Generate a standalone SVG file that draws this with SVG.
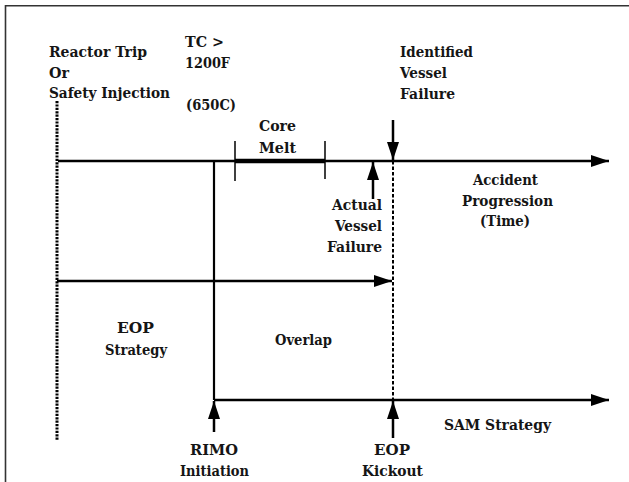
<svg xmlns="http://www.w3.org/2000/svg" width="629" height="482" viewBox="0 0 629 482">
<style>
.t text{font-family:"DejaVu Serif","Liberation Serif",serif;font-size:15px;font-weight:bold;fill:#151515}
.ln{stroke:#000;stroke-width:2.5;fill:none}
</style>
<defs>
<marker id="ah" viewBox="0 0 18 12" refX="18" refY="6" markerWidth="18" markerHeight="12" markerUnits="userSpaceOnUse" orient="auto">
<path d="M0,0 L18,6 L0,12 Z" fill="#000"/>
</marker>
</defs>
<rect width="629" height="482" fill="#fff"/>
<path d="M5.5,490 V5.8 H640" fill="none" stroke="#333" stroke-width="1.6"/>
<g id="connectors">
<line class="ln" x1="58" y1="161" x2="609" y2="161" marker-end="url(#ah)"/>
<line x1="235" y1="161" x2="325" y2="161" stroke="#000" stroke-width="4.5"/>
<line x1="235" y1="141" x2="235" y2="181" stroke="#000" stroke-width="1.5"/>
<line x1="325" y1="141" x2="325" y2="179" stroke="#000" stroke-width="1.5"/>
<line x1="57" y1="101" x2="57" y2="440" stroke="#000" stroke-width="3" stroke-dasharray="2.2 1.2"/>
<line x1="393" y1="161" x2="393" y2="400" stroke="#000" stroke-width="2" stroke-dasharray="3.5 2"/>
<line x1="214" y1="161" x2="214" y2="400" stroke="#000" stroke-width="2.2"/>
<line class="ln" x1="57" y1="281" x2="392" y2="281" marker-end="url(#ah)"/>
<line class="ln" x1="214" y1="400" x2="609" y2="400" marker-end="url(#ah)"/>
<line class="ln" x1="393" y1="120" x2="393" y2="160" marker-end="url(#ah)"/>
<line class="ln" x1="373" y1="199" x2="373" y2="162" marker-end="url(#ah)"/>
<line class="ln" x1="214" y1="432" x2="214" y2="401" marker-end="url(#ah)"/>
<line class="ln" x1="393" y1="438" x2="393" y2="401" marker-end="url(#ah)"/>
</g>
<g class="t">
<g id="reactor-trip">
<text x="49" y="57" textLength="98" lengthAdjust="spacingAndGlyphs">Reactor Trip</text>
<text x="49" y="78" textLength="20" lengthAdjust="spacingAndGlyphs">Or</text>
<text x="49" y="98" textLength="121" lengthAdjust="spacingAndGlyphs">Safety Injection</text>
</g>
<g id="tc">
<text x="185" y="47" textLength="39" lengthAdjust="spacingAndGlyphs">TC &gt;</text>
<text x="185" y="68" textLength="45" lengthAdjust="spacingAndGlyphs">1200F</text>
<text x="186" y="110" textLength="50" lengthAdjust="spacingAndGlyphs">(650C)</text>
</g>
<g id="core-melt">
<text x="259" y="131" textLength="37" lengthAdjust="spacingAndGlyphs">Core</text>
<text x="259" y="153" textLength="37" lengthAdjust="spacingAndGlyphs">Melt</text>
</g>
<g id="identified">
<text x="400" y="57" textLength="73" lengthAdjust="spacingAndGlyphs">Identified</text>
<text x="400" y="78" textLength="47" lengthAdjust="spacingAndGlyphs">Vessel</text>
<text x="400" y="99" textLength="55" lengthAdjust="spacingAndGlyphs">Failure</text>
</g>
<g id="accident">
<text x="473" y="185" textLength="65" lengthAdjust="spacingAndGlyphs">Accident</text>
<text x="462" y="206" textLength="91" lengthAdjust="spacingAndGlyphs">Progression</text>
<text x="480" y="226" textLength="50" lengthAdjust="spacingAndGlyphs">(Time)</text>
</g>
<g id="actual">
<text x="332" y="210" textLength="50" lengthAdjust="spacingAndGlyphs">Actual</text>
<text x="335" y="231" textLength="47" lengthAdjust="spacingAndGlyphs">Vessel</text>
<text x="327" y="252" textLength="55" lengthAdjust="spacingAndGlyphs">Failure</text>
</g>
<g id="eop-strategy">
<text x="117" y="333" textLength="37" lengthAdjust="spacingAndGlyphs">EOP</text>
<text x="105" y="355" textLength="62" lengthAdjust="spacingAndGlyphs">Strategy</text>
</g>
<g id="overlap">
<text x="275" y="345" textLength="57" lengthAdjust="spacingAndGlyphs">Overlap</text>
</g>
<g id="sam">
<text x="444" y="430" textLength="107" lengthAdjust="spacingAndGlyphs">SAM Strategy</text>
</g>
<g id="rimo">
<text x="190" y="455" textLength="48" lengthAdjust="spacingAndGlyphs">RIMO</text>
<text x="180" y="476" textLength="69" lengthAdjust="spacingAndGlyphs">Initiation</text>
</g>
<g id="kickout">
<text x="374" y="455" textLength="36" lengthAdjust="spacingAndGlyphs">EOP</text>
<text x="362" y="476" textLength="61" lengthAdjust="spacingAndGlyphs">Kickout</text>
</g>
</g>
</svg>
